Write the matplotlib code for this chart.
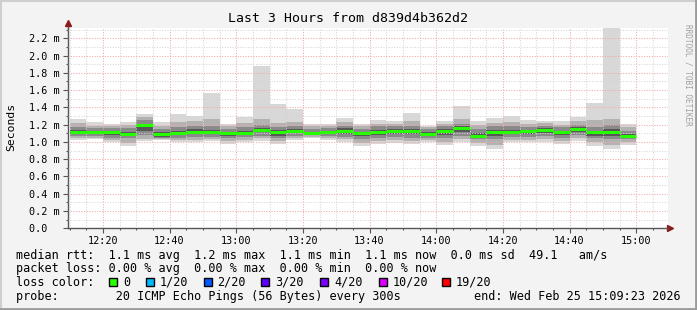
import matplotlib
matplotlib.use('Agg')
import matplotlib.pyplot as plt
import matplotlib.dates as mdates
from matplotlib.patches import Rectangle
from matplotlib.lines import Line2D
import datetime as dt
import numpy as np

# ---------------- data (ms) ----------------
rtt_median = [1.115, 1.11, 1.115, 1.096, 1.192, 1.088, 1.10, 1.11, 1.11, 1.10, 1.107, 1.138,
              1.119, 1.127, 1.103, 1.115, 1.13, 1.10, 1.115, 1.13, 1.13, 1.096, 1.13, 1.161,
              1.069, 1.115, 1.115, 1.123, 1.138, 1.115, 1.15, 1.11, 1.115, 1.069]
rtt_min = [1.018, 1.038, 0.995, 0.957, 1.007, 1.018, 0.995, 0.995, 1.007, 0.98, 0.995, 1.015,
           0.976, 1.026, 1.045, 1.018, 0.995, 0.95, 0.976, 0.99, 0.976, 0.995, 0.968, 0.995,
           0.95, 0.922, 0.995, 0.995, 0.995, 0.976, 1.015, 0.957, 0.922, 0.968]
rtt_lo2 = [1.04, 1.05, 1.02, 0.99, 1.03, 1.03, 1.02, 1.02, 1.03, 1.01, 1.02, 1.04,
           1.01, 1.04, 1.06, 1.04, 1.03, 0.99, 1.01, 1.02, 1.01, 1.02, 1.00, 1.03,
           0.99, 0.97, 1.02, 1.02, 1.03, 1.01, 1.05, 1.00, 0.97, 1.00]
rtt_lo3 = [1.07, 1.07, 1.05, 1.04, 1.08, 1.05, 1.05, 1.06, 1.06, 1.04, 1.06, 1.07,
           1.04, 1.07, 1.08, 1.07, 1.06, 1.03, 1.05, 1.06, 1.05, 1.05, 1.04, 1.07,
           1.03, 1.03, 1.06, 1.06, 1.07, 1.05, 1.08, 1.04, 1.03, 1.03]
rtt_lo4 = [1.09, 1.09, 1.08, 1.07, 1.13, 1.06, 1.08, 1.09, 1.09, 1.07, 1.09, 1.11,
           1.07, 1.10, 1.09, 1.09, 1.09, 1.07, 1.08, 1.09, 1.09, 1.07, 1.08, 1.11,
           1.05, 1.07, 1.09, 1.09, 1.10, 1.08, 1.11, 1.07, 1.07, 1.05]
rtt_hi4 = [1.14, 1.13, 1.13, 1.12, 1.21, 1.11, 1.13, 1.15, 1.14, 1.12, 1.13, 1.16,
           1.14, 1.15, 1.12, 1.13, 1.16, 1.12, 1.14, 1.15, 1.15, 1.12, 1.15, 1.18,
           1.10, 1.14, 1.14, 1.14, 1.16, 1.13, 1.17, 1.13, 1.15, 1.09]
rtt_hi3 = [1.17, 1.16, 1.16, 1.16, 1.25, 1.15, 1.17, 1.19, 1.18, 1.15, 1.17, 1.20,
           1.17, 1.18, 1.15, 1.16, 1.19, 1.15, 1.18, 1.18, 1.19, 1.15, 1.18, 1.21,
           1.15, 1.18, 1.18, 1.17, 1.19, 1.17, 1.20, 1.17, 1.20, 1.13]
rtt_hi2 = [1.22, 1.19, 1.19, 1.20, 1.29, 1.19, 1.23, 1.24, 1.26, 1.18, 1.22, 1.26,
           1.22, 1.23, 1.18, 1.19, 1.23, 1.18, 1.21, 1.21, 1.24, 1.17, 1.21, 1.26,
           1.20, 1.22, 1.23, 1.21, 1.22, 1.20, 1.24, 1.25, 1.27, 1.17]
rtt_max = [1.266, 1.227, 1.21, 1.23, 1.323, 1.227, 1.323, 1.296, 1.57, 1.208, 1.289, 1.88,
           1.44, 1.38, 1.208, 1.21, 1.277, 1.208, 1.25, 1.239, 1.335, 1.18, 1.246, 1.416,
           1.239, 1.277, 1.296, 1.25, 1.246, 1.239, 1.29, 1.455, 2.32, 1.208]

y_ticks = [0.0, 0.2, 0.4, 0.6, 0.8, 1.0, 1.2, 1.4, 1.6, 1.8, 2.0, 2.2]
loss_labels = ['0', '1/20', '2/20', '3/20', '4/20', '10/20', '19/20']
loss_colors = ['#26ff00', '#00b8ff', '#0059ff', '#5e00ff', '#7e00ff', '#dd00ff', '#ff0000']

title = 'Last 3 Hours from d839d4b362d2'
line1 = 'median rtt:  1.1 ms avg  1.2 ms max  1.1 ms min  1.1 ms now  0.0 ms sd  49.1   am/s'
line2 = 'packet loss: 0.00 % avg  0.00 % max  0.00 % min  0.00 % now'
line4 = 'probe:        20 ICMP Echo Pings (56 Bytes) every 300s'
end_txt = 'end: Wed Feb 25 15:09:23 2026'

# ---------------- figure ----------------
W, H = 697, 310
MONO = 'DejaVu Sans Mono'
fig = plt.figure(figsize=(W / 100, H / 100), dpi=100, facecolor='#f3f3f3')


def fx(x):
    return x / W


def fy(y):
    return 1 - y / H


ax = fig.add_axes([fx(67.5), fy(228.3), 600 / W, (228.3 - 28.3) / H])
ax.set_facecolor('white')

t0 = dt.datetime(2026, 2, 25, 12, 10)
step = dt.timedelta(minutes=5)
starts = [t0 + i * step for i in range(len(rtt_median))]
xs = mdates.date2num(starts)
w = 5 / 1440.0

layers = [(rtt_min, rtt_max, '#d8d8d8'),
          (rtt_lo2, rtt_hi2, '#b2b2b2'),
          (rtt_lo3, rtt_hi3, '#8a8a8a'),
          (rtt_lo4, rtt_hi4, '#575757')]
for lo, hi, col in layers:
    lo = np.array(lo)
    hi = np.array(hi)
    ax.bar(xs, hi - lo, bottom=lo, width=w, align='edge', color=col,
           linewidth=0, zorder=1)

ax.hlines(rtt_median, xs, xs + w, colors=loss_colors[0], linewidth=2.2, zorder=4)

xmin = mdates.date2num(dt.datetime(2026, 2, 25, 12, 9, 23))
xmax = mdates.date2num(dt.datetime(2026, 2, 25, 15, 9, 23))
ax.set_xlim(xmin, xmax)
ax.set_ylim(0, 2.316)

# grid
ax.xaxis.set_major_locator(mdates.MinuteLocator(byminute=[0, 20, 40]))
ax.xaxis.set_minor_locator(mdates.MinuteLocator(byminute=range(0, 60, 5)))
ax.xaxis.set_major_formatter(mdates.DateFormatter('%H:%M'))
ax.set_yticks(y_ticks)
ax.set_yticks(np.arange(0.1, 2.31, 0.2), minor=True)
ax.set_yticklabels([('%.1f m' % v) if v > 0 else '0.0  ' for v in y_ticks])

ax.set_axisbelow(False)
ax.grid(which='minor', color='#d6d6d6', linestyle=(0, (1, 1.5)), linewidth=0.75, zorder=3)
ax.grid(which='major', color='#f3a8a8', linestyle=(0, (1, 1.5)), linewidth=0.75, zorder=3)

for s in ['top', 'right']:
    ax.spines[s].set_visible(False)
for s in ['left', 'bottom']:
    ax.spines[s].set_color('#555555')
    ax.spines[s].set_linewidth(1.0)

ax.tick_params(which='major', direction='out', length=3.5, width=0.8, color='#555555',
               labelsize=7.3, pad=2)
ax.tick_params(which='minor', direction='out', length=1.5, width=0.8, color='#555555')
for lab in ax.get_xticklabels() + ax.get_yticklabels():
    lab.set_family(MONO)

# axis arrows
ax.plot([0, 0], [1, 1.02], transform=ax.transAxes, color='#555555', lw=1.0, clip_on=False)
ax.plot([1, 1.005], [0, 0], transform=ax.transAxes, color='#555555', lw=1.0, clip_on=False)
ax.plot([0], [1.025], marker='^', ms=4.5, color='#8b1a1a', transform=ax.transAxes, clip_on=False)
ax.plot([1.005], [0], marker='>', ms=4.5, color='#8b1a1a', transform=ax.transAxes, clip_on=False)

# texts
fig.text(fx(347.5), fy(19), title, family=MONO, fontsize=9.5, ha='center', va='center')
fig.text(fx(11), fy(127), 'Seconds', family=MONO, fontsize=8.2, rotation=90,
         ha='center', va='center')
fig.text(fx(688), fy(75), 'RRDTOOL / TOBI OETIKER', family=MONO, fontsize=5.6,
         rotation=270, ha='center', va='center', color='#a0a0a0')

fs = 8.5
fig.text(fx(16), fy(255), line1, family=MONO, fontsize=fs, ha='left', va='center')
fig.text(fx(16), fy(268.3), line2, family=MONO, fontsize=fs, ha='left', va='center')
fig.text(fx(16), fy(282.3), 'loss color:', family=MONO, fontsize=fs, ha='left', va='center')
sq_x = [109, 146, 203.5, 261, 320, 378.5, 442]
for x, lab, col in zip(sq_x, loss_labels, loss_colors):
    fig.add_artist(Rectangle((fx(x), fy(286)), 8 / W, 8 / H, transform=fig.transFigure,
                             facecolor=col, edgecolor='black', linewidth=1.0))
    fig.text(fx(x + 14), fy(282.3), lab, family=MONO, fontsize=fs, ha='left', va='center')
fig.text(fx(16), fy(296.7), line4, family=MONO, fontsize=fs, ha='left', va='center')
fig.text(fx(680.5), fy(296.7), end_txt, family=MONO, fontsize=fs, ha='right', va='center')

# frame
fig.add_artist(Line2D([0, 1], [fy(0.5), fy(0.5)], transform=fig.transFigure, color='#cfcfcf', lw=1.5))
fig.add_artist(Line2D([fx(0.5), fx(0.5)], [0, 1], transform=fig.transFigure, color='#cfcfcf', lw=1.5))
fig.add_artist(Line2D([0, 1], [fy(309), fy(309)], transform=fig.transFigure, color='#9b9b9b', lw=2))
fig.add_artist(Line2D([fx(696), fx(696)], [0, 1], transform=fig.transFigure, color='#9b9b9b', lw=2))

fig.savefig('out.png', dpi=100, facecolor=fig.get_facecolor())
